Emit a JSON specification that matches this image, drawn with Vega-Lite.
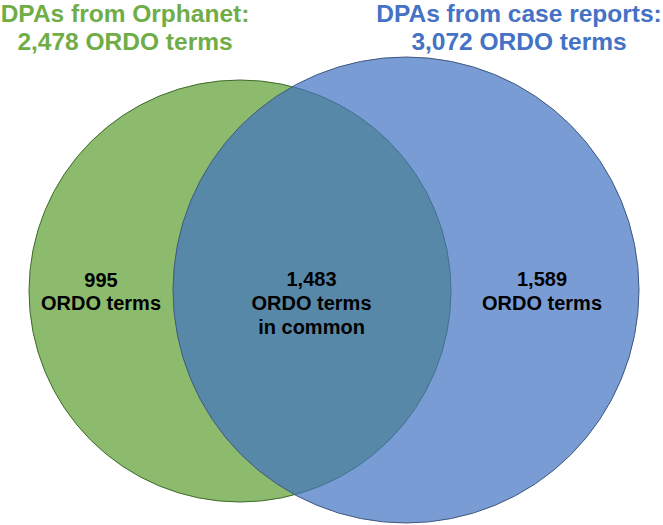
{
  "$schema": "https://vega.github.io/schema/vega-lite/v6.json",
  "width": 663,
  "height": 525,
  "padding": 0,
  "autosize": {"type": "none"},
  "background": "white",
  "config": {"view": {"stroke": null}},
  "datasets": {
    "sets": [
      {"set": "Orphanet", "x": 240, "y": 291},
      {"set": "Case reports", "x": 406, "y": 290}
    ],
    "labels": [
      {"group": "orph", "text": "DPAs from Orphanet:", "x": 125, "y": 22},
      {"group": "orph", "text": "2,478 ORDO terms", "x": 125, "y": 50},
      {"group": "case", "text": "DPAs from case reports:", "x": 519, "y": 22},
      {"group": "case", "text": "3,072 ORDO terms", "x": 519, "y": 50},
      {"group": "inner", "text": "995", "x": 101, "y": 287},
      {"group": "inner", "text": "ORDO terms", "x": 101, "y": 310},
      {"group": "inner", "text": "1,483", "x": 311.5, "y": 286},
      {"group": "inner", "text": "ORDO terms", "x": 311.5, "y": 310},
      {"group": "inner", "text": "in common", "x": 311.5, "y": 334},
      {"group": "inner", "text": "1,589", "x": 542, "y": 286},
      {"group": "inner", "text": "ORDO terms", "x": 542, "y": 310}
    ]
  },
  "encoding": {
    "x": {"field": "x", "type": "quantitative", "scale": {"domain": [0, 663], "nice": false, "zero": false}, "axis": null},
    "y": {"field": "y", "type": "quantitative", "scale": {"domain": [0, 525], "nice": false, "zero": false, "reverse": true}, "axis": null}
  },
  "layer": [
    {
      "data": {"name": "sets"},
      "transform": [{"filter": "datum.set === 'Orphanet'"}],
      "mark": {"type": "point", "shape": "circle", "filled": true, "size": 178084, "fill": "#8CBB6D", "fillOpacity": 1, "opacity": 1, "stroke": "#3E6B2A", "strokeWidth": 1, "strokeOpacity": 1}
    },
    {
      "data": {"name": "sets"},
      "transform": [{"filter": "datum.set === 'Case reports'"}],
      "mark": {"type": "point", "shape": "circle", "filled": true, "size": 217156, "fill": "#4172C2", "fillOpacity": 0.7, "opacity": 1, "stroke": "#40597F", "strokeWidth": 1, "strokeOpacity": 1}
    },
    {
      "data": {"name": "labels"},
      "transform": [{"filter": "datum.group === 'orph'"}],
      "mark": {"type": "text", "font": "Liberation Sans", "fontWeight": "bold", "fontSize": 24.5, "baseline": "alphabetic", "align": "center", "color": "#70AD47"},
      "encoding": {"text": {"field": "text"}}
    },
    {
      "data": {"name": "labels"},
      "transform": [{"filter": "datum.group === 'case'"}],
      "mark": {"type": "text", "font": "Liberation Sans", "fontWeight": "bold", "fontSize": 24.5, "baseline": "alphabetic", "align": "center", "color": "#4472C4"},
      "encoding": {"text": {"field": "text"}}
    },
    {
      "data": {"name": "labels"},
      "transform": [{"filter": "datum.group === 'inner'"}],
      "mark": {"type": "text", "font": "Liberation Sans", "fontWeight": "bold", "fontSize": 20, "baseline": "alphabetic", "align": "center", "color": "#000000"},
      "encoding": {"text": {"field": "text"}}
    }
  ]
}
